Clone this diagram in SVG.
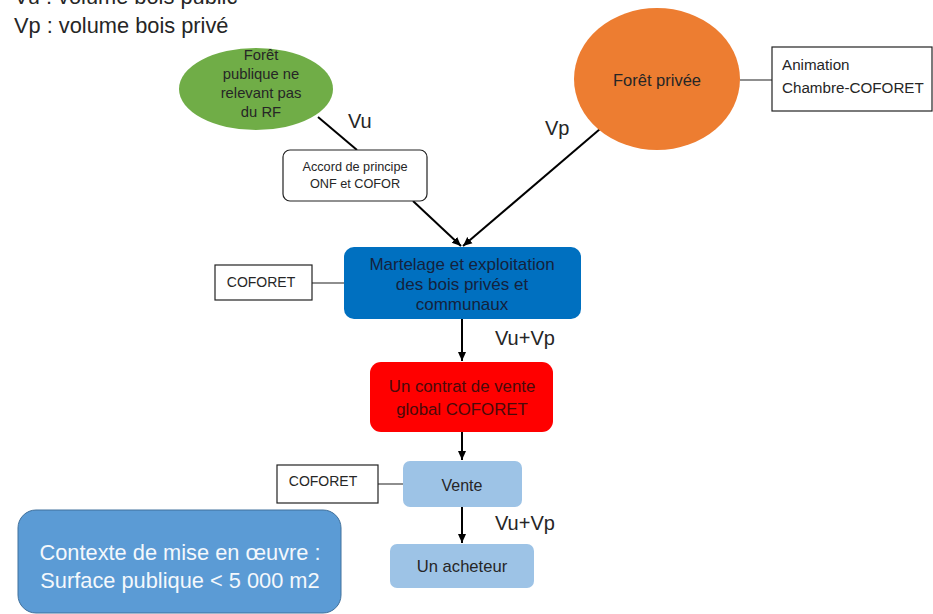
<svg xmlns="http://www.w3.org/2000/svg" width="933" height="614" viewBox="0 0 933 614">
<defs>
<marker id="ah" markerWidth="10" markerHeight="10" refX="9" refY="5" orient="auto" markerUnits="userSpaceOnUse">
<path d="M0,1 L9,5 L0,9 Z" fill="#000"/>
</marker>
<style>
text{font-family:"Liberation Sans",Arial,sans-serif;fill:#262626;}
.big{font-size:20px;}
.leg{font-size:21.8px;}
.c{text-anchor:middle;}
.s14{font-size:14px;}
.plain{fill:#fff;stroke:#222;stroke-width:1.2;}
.conn{stroke:#000;stroke-width:2;fill:none;}
.side{stroke:#444;stroke-width:1.2;fill:none;}
</style>
</defs>
<rect width="933" height="614" fill="#fff"/>
<g id="legend">
<text class="leg" x="14" y="4">Vu : volume bois public</text>
<text class="leg" x="14" y="33">Vp : volume bois privé</text>
</g>
<g id="connectors">
<line class="conn" x1="318" y1="117" x2="357" y2="150"/>
<line class="conn" x1="413" y1="201" x2="461" y2="246" marker-end="url(#ah)"/>
<line class="conn" x1="600" y1="129" x2="463" y2="246" marker-end="url(#ah)"/>
<line class="side" x1="740" y1="80" x2="772" y2="80"/>
<line class="side" x1="312" y1="283" x2="344" y2="283"/>
<line class="conn" x1="462" y1="319" x2="462" y2="361" marker-end="url(#ah)"/>
<line class="conn" x1="462" y1="432" x2="462" y2="460" marker-end="url(#ah)"/>
<line class="side" x1="378" y1="484" x2="403" y2="484" stroke="#888"/>
<line class="conn" x1="462" y1="507" x2="462" y2="543" marker-end="url(#ah)"/>
<text class="big" x="348" y="128">Vu</text>
<text class="big" x="545" y="135">Vp</text>
<text class="big" x="495" y="345">Vu+Vp</text>
<text class="big" x="495" y="530">Vu+Vp</text>
</g>
<g id="foret-publique">
<ellipse cx="256" cy="89" rx="77" ry="41" fill="#70AD47"/>
<text class="c" x="261" y="60" font-size="14.8">Forêt</text>
<text class="c" x="261" y="79" font-size="14.8">publique ne</text>
<text class="c" x="261" y="98" font-size="14.8">relevant pas</text>
<text class="c" x="261" y="117" font-size="14.8">du RF</text>
</g>
<g id="accord">
<rect class="plain" x="283" y="150" width="144" height="51" rx="7"/>
<text class="c" x="355" y="171" font-size="12.7">Accord de principe</text>
<text class="c" x="355" y="188" font-size="12.7">ONF et COFOR</text>
</g>
<g id="foret-privee">
<ellipse cx="657" cy="79" rx="83" ry="71" fill="#ED7D31"/>
<text class="c" x="657" y="86" font-size="16.5">Forêt privée</text>
</g>
<g id="animation">
<rect class="plain" x="772" y="47" width="160" height="64"/>
<text x="782" y="70" font-size="15.2">Animation</text>
<text x="782" y="93" font-size="15.2">Chambre-COFORET</text>
</g>
<g id="martelage">
<rect x="344" y="247" width="237" height="72" rx="10" fill="#0070C0"/>
<text class="c" x="462" y="270" font-size="17" style="fill:#14223d">Martelage et exploitation</text>
<text class="c" x="462" y="290" font-size="17" style="fill:#14223d">des bois privés et</text>
<text class="c" x="462" y="310" font-size="17" style="fill:#14223d">communaux</text>
</g>
<g id="coforet1">
<rect class="plain" x="215" y="265" width="97" height="35"/>
<text class="s14 c" x="261" y="287">COFORET</text>
</g>
<g id="contrat">
<rect x="370" y="362" width="183" height="70" rx="11" fill="#FF0000"/>
<text class="c" x="462" y="392" font-size="16.8" style="fill:#4a0a0a">Un contrat de vente</text>
<text class="c" x="462" y="415" font-size="16.8" style="fill:#4a0a0a">global COFORET</text>
</g>
<g id="vente">
<rect x="403" y="461" width="119" height="46" rx="7" fill="#9DC3E6"/>
<text class="c" x="462" y="491" font-size="16">Vente</text>
</g>
<g id="coforet2">
<rect class="plain" x="277" y="465" width="101" height="38"/>
<text class="s14 c" x="323" y="486">COFORET</text>
</g>
<g id="acheteur">
<rect x="390" y="544" width="144" height="44" rx="7" fill="#9DC3E6"/>
<text class="c" x="462" y="572" font-size="16.6">Un acheteur</text>
</g>
<g id="contexte">
<rect x="18" y="510" width="323" height="103" rx="18" fill="#5B9BD5" stroke="#41719C" stroke-width="1"/>
<text class="c" x="180" y="560" font-size="21.8" style="fill:#f4f8fc">Contexte de mise en œuvre :</text>
<text class="c" x="180" y="588" font-size="21.8" style="fill:#f4f8fc">Surface publique &lt; 5 000 m2</text>
</g>
</svg>
